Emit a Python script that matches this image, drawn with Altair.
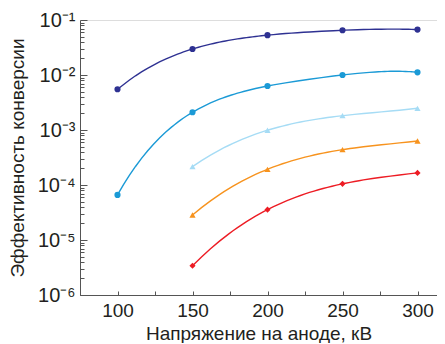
import altair as alt
import pandas as pd

voltage = [100, 150, 200, 250, 300]
navy = [5.5e-3, 2.97e-2, 5.3e-2, 6.5e-2, 6.7e-2]
cyan = [6.6e-5, 2.1e-3, 6.3e-3, 1.0e-2, 1.12e-2]
light = [None, 2.16e-4, 9.9e-4, 1.82e-3, 2.48e-3]
orange = [None, 2.85e-5, 1.93e-4, 4.39e-4, 6.3e-4]
red = [None, 3.4e-6, 3.56e-5, 1.05e-4, 1.66e-4]

series_names = ["s1", "s2", "s3", "s4", "s5"]
series_vals = [navy, cyan, light, orange, red]
colors = ["#2e3192", "#1b9ad6", "#a6dcf5", "#f7931e", "#ed1c24"]
shapes = ["circle", "circle", "triangle-up", "triangle-up", "diamond"]
sizes = [38, 38, 50, 50, 50]

y_major = [1e-6, 1e-5, 1e-4, 1e-3, 1e-2, 1e-1]
y_minor = [m * d for d in [1e-6, 1e-5, 1e-4, 1e-3, 1e-2] for m in range(1, 10)] + [1e-1]
x_labels = [100, 150, 200, 250, 300]
x_ticks = [75, 100, 125, 150, 175, 200, 225, 250, 275, 300]

rows = []
for name, vals in zip(series_names, series_vals):
    n = sum(v is not None for v in vals)
    for v, val in zip(voltage, vals):
        if val is not None:
            rows.append({"V": v, "eff": val, "s": name, "n": n})
df = pd.DataFrame(rows)

FONT = "Liberation Sans"
W, H = 357, 275
xscale = alt.Scale(domain=[75, 313], nice=False, zero=False)
yscale = alt.Scale(type="log", domain=[1e-6, 1e-1], nice=False)
cscale = alt.Scale(domain=series_names, range=colors)
sscale = alt.Scale(domain=series_names, range=shapes)
zscale = alt.Scale(domain=series_names, range=sizes)

sup = "['⁻⁶','⁻⁵','⁻⁴','⁻³','⁻²','⁻¹'][round(log(datum.value)/LN10)+6]"

main_x_axis = alt.Axis(
    values=x_labels, title="Напряжение на аноде, кВ", tickSize=0,
    labelFontSize=19, titleFontSize=19, labelFont=FONT, titleFont=FONT,
    titleFontWeight="normal", labelColor="#231f20", titleColor="#231f20",
    domainColor="#555555", labelPadding=6, titlePadding=4, grid=False)
main_y_axis = alt.Axis(
    values=y_major, labelExpr="'10' + " + sup, title="Эффективность конверсии",
    tickSize=0, labelFontSize=20, titleFontSize=19, labelFont=FONT, titleFont=FONT,
    titleFontWeight="normal", labelColor="#231f20", titleColor="#231f20",
    domainColor="#555555", labelPadding=5, titlePadding=10, grid=False)


def curve(npts, order, xaxis, yaxis):
    return alt.Chart(df).transform_filter(
        alt.datum.n == npts
    ).transform_calculate(
        le="log(datum.eff)/LN10"
    ).transform_regression(
        "V", "le", method="poly", order=order, groupby=["s"]
    ).transform_calculate(
        eff="pow(10, datum.le)"
    ).mark_line(strokeWidth=1.4).encode(
        x=alt.X("V:Q", scale=xscale, axis=xaxis),
        y=alt.Y("eff:Q", scale=yscale, axis=yaxis),
        color=alt.Color("s:N", scale=cscale, legend=None),
        detail="s:N",
    )


lines5 = curve(5, 4, main_x_axis, main_y_axis)
lines4 = curve(4, 3, None, None)

points = alt.Chart(df).mark_point(filled=True, opacity=1).encode(
    x=alt.X("V:Q", scale=xscale, axis=alt.Axis(
        orient="top", offset=-H, values=x_ticks, labels=False, domain=False,
        tickSize=4, tickColor="#555555", title=None, grid=False)),
    y=alt.Y("eff:Q", scale=yscale, axis=alt.Axis(
        orient="right", offset=-W, values=y_minor, labels=False, domain=False,
        tickSize={"condition": {"test": "abs(log(datum.value)/LN10 - round(log(datum.value)/LN10)) < 0.001", "value": 7}, "value": 4},
        tickColor="#555555", title=None, grid=False)),
    color=alt.Color("s:N", scale=cscale, legend=None),
    shape=alt.Shape("s:N", scale=sscale, legend=None),
    size=alt.Size("s:N", scale=zscale, legend=None),
)

chart = alt.layer(lines5, lines4, points).resolve_axis(x="independent", y="independent").properties(
    width=W, height=H, padding={"left": 0, "top": 2, "right": 0, "bottom": 0}
).configure_view(stroke=None).configure(background="white")

chart.save("out.html", embed_options={"renderer": "svg", "actions": False})
